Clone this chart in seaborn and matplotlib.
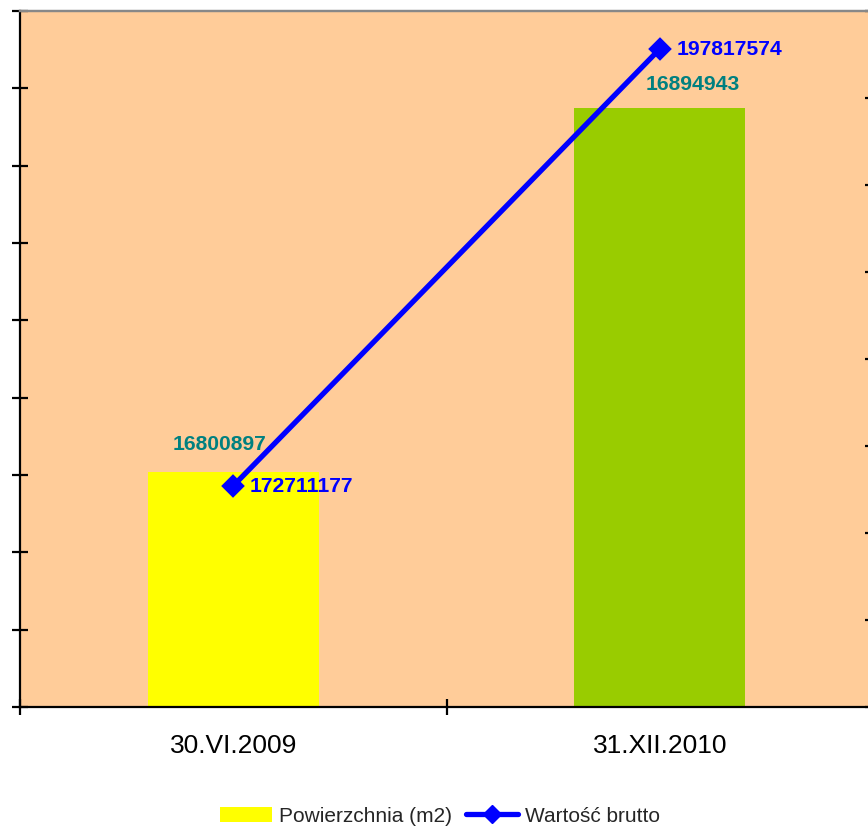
import matplotlib
matplotlib.use("Agg")
import matplotlib.pyplot as plt
import seaborn as sns
import pandas as pd
from matplotlib.patches import Patch
from matplotlib.lines import Line2D

categories = ["30.VI.2009", "31.XII.2010"]
area_values = [16800897, 16894943]
gross_values = [172711177, 197817574]
bar_colors = ["#FFFF00", "#99CC00"]
area_label = "Powierzchnia (m2)"
gross_label = "Wartość brutto"

sns.set_theme(style="white")
plt.rcParams["font.family"] = ["Liberation Sans", "DejaVu Sans"]

df = pd.DataFrame({"cat": categories, "area": area_values, "gross": gross_values})

fig = plt.figure(figsize=(8.68, 8.28), dpi=100)
W, H = 868, 828
ax = fig.add_axes([20 / W, 1 - 708 / H, 853 / W, 696 / H])
ax.set_facecolor("#FFCC99")

sns.barplot(data=df, x="cat", y="area", hue="cat", palette=bar_colors,
            width=0.402, ax=ax, legend=False, saturation=1, edgecolor="none")
ax.set_xlim(-0.5, 1.5)
ax.set_ylim(16740000, 16920000)
ax.set_yticks([16740000 + 20000 * i for i in range(10)])
ax.set_yticklabels([])
ax.set_xlabel("")
ax.set_ylabel("")

ax2 = ax.twinx()
sns.pointplot(data=df, x="cat", y="gross", ax=ax2, color="#0000FF",
              markers="D", markersize=9, linewidth=3.8, errorbar=None)
ax2.set_xlim(-0.5, 1.5)
ax2.set_ylim(160000000, 200000000)
ax2.set_yticks([160000000 + 5000000 * i for i in range(9)])
ax2.set_yticklabels([])
ax2.set_ylabel("")
ax2.set_xlabel("")

# spines
for s in ["left", "bottom"]:
    ax.spines[s].set_color("black")
    ax.spines[s].set_linewidth(1.6)
ax.spines["top"].set_color("#888888")
ax.spines["top"].set_linewidth(1.6)
ax.spines["right"].set_visible(False)
for s in ["left", "bottom", "right"]:
    ax2.spines[s].set_visible(False)
ax2.spines["top"].set_color("#888888")
ax2.spines["top"].set_linewidth(1.6)

ax.tick_params(axis="y", direction="inout", length=12, width=1.6, color="black", left=True)
ax2.tick_params(axis="y", direction="inout", length=12, width=1.6, color="black", right=True)

ax.set_xticks([0, 1])
ax.set_xticklabels(categories, fontsize=19, color="black")
ax.tick_params(axis="x", which="major", length=0, pad=19)
ax.set_xticks([-0.5, 0.5, 1.5], minor=True)
ax.tick_params(axis="x", which="minor", direction="inout", length=12, width=1.6,
               color="black", bottom=True)

# data labels
bar_offsets = [(-10, 13), (24, 11)]
for i, (v, off) in enumerate(zip(area_values, bar_offsets)):
    ax.annotate(f"{v}", xy=(i, v), xytext=off, textcoords="offset points",
                ha="center", va="bottom", fontsize=15.2, fontweight="bold",
                color="#008080")
for i, v in enumerate(gross_values):
    ax2.annotate(f"{v}", xy=(i, v), xytext=(12, 0), textcoords="offset points",
                 ha="left", va="center", fontsize=15.2, fontweight="bold",
                 color="#0000FF", zorder=10)

handles = [Patch(facecolor=bar_colors[0], edgecolor="none", label=area_label),
           Line2D([0], [0], color="#0000FF", lw=3.8, marker="D", markersize=9,
                  label=gross_label)]
fig.legend(handles=handles, loc="center", bbox_to_anchor=(440 / W, 1 - 817 / H),
           ncol=2, frameon=False, fontsize=15, handlelength=2.5,
           handletextpad=0.3, columnspacing=0.7, borderaxespad=0)

fig.savefig("out.png", dpi=100)
